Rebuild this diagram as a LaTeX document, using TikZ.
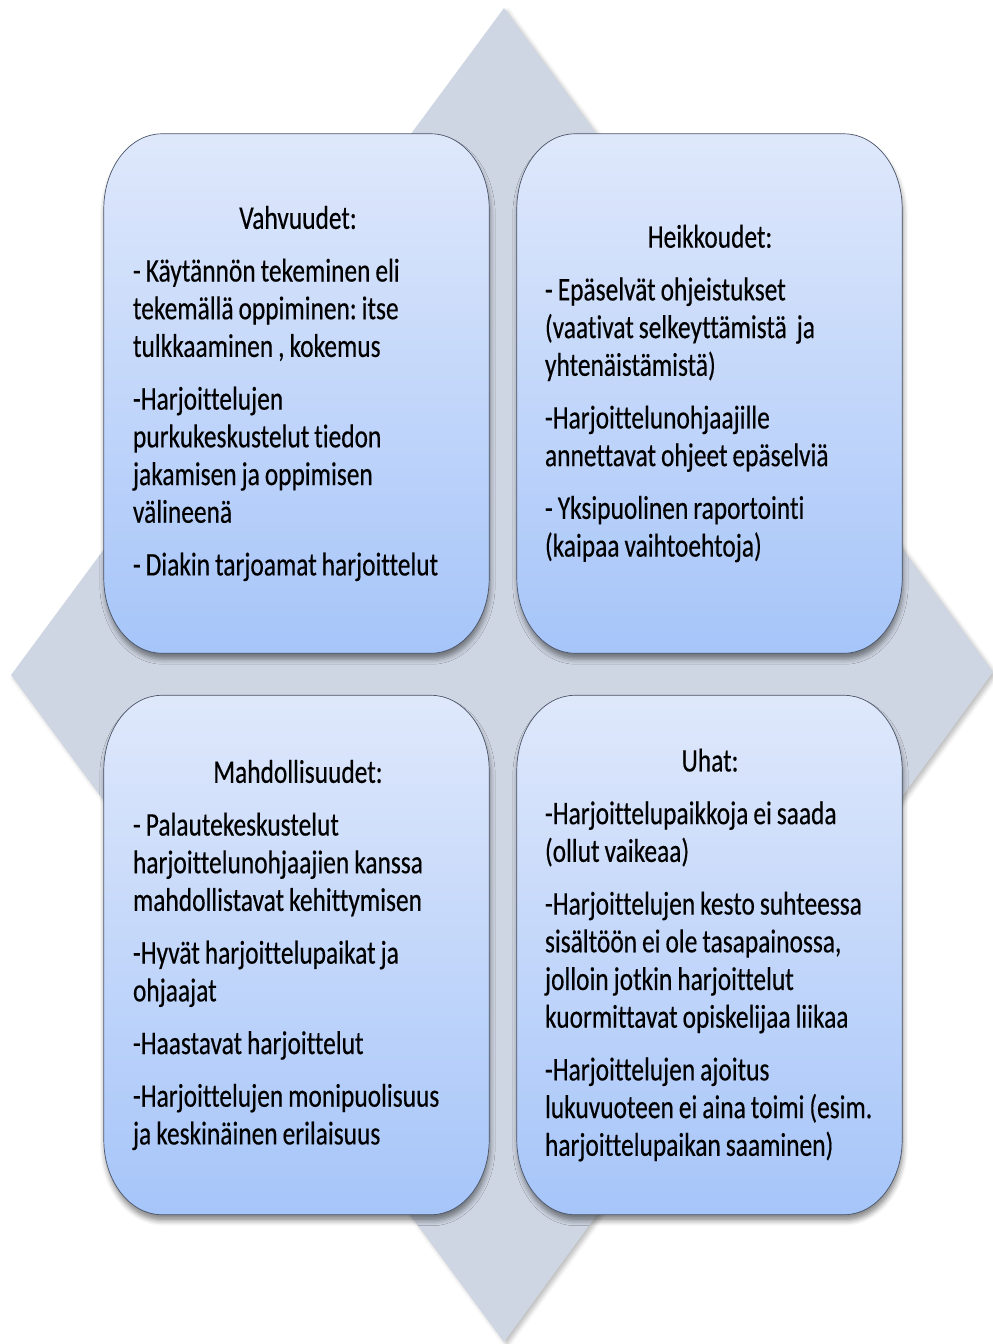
\documentclass[tikz,border=0pt]{standalone}
\usepackage{fontspec}
\setmainfont{Carlito}[FakeStretch=0.77, Ligatures=NoCommon, FakeBold=0.35]
\usetikzlibrary{backgrounds,shadows.blur}

\definecolor{coreblue}{RGB}{207,214,227}
\definecolor{paneltop}{RGB}{223,232,251}
\definecolor{panelbot}{RGB}{166,197,249}
\definecolor{panelline}{RGB}{75,85,105}

\newcommand{\cornx}{58pt}
\newcommand{\corny}{75pt}
% rounded panel drawn round an (empty) node
\newcommand{\panelpath}[1]{%
  \path[panelfill] ([xshift=\cornx]#1.north west) -- ([xshift=-\cornx]#1.north east)
    arc[start angle=90, end angle=0, x radius=\cornx, y radius=\corny]
    -- ([yshift=\corny]#1.south east)
    arc[start angle=0, end angle=-90, x radius=\cornx, y radius=\corny]
    -- ([xshift=\cornx]#1.south west)
    arc[start angle=270, end angle=180, x radius=\cornx, y radius=\corny]
    -- ([yshift=-\corny]#1.north west)
    arc[start angle=180, end angle=90, x radius=\cornx, y radius=\corny] -- cycle;}
\newcommand{\swothead}[1]{\makebox[330pt]{#1}}

\tikzset{
  panel/.style={minimum width=385pt, minimum height=519pt, inner sep=0pt},
  paneltext/.style={anchor=west, text width=345pt, align=left, inner sep=0pt,
    font=\fontsize{33}{37.7}\selectfont,
    execute at begin node={\spaceskip=5pt\xspaceskip=5pt\relax}},
  panelfill/.style={top color=paneltop, bottom color=panelbot, draw=panelline, line width=0.7pt,
    blur shadow={shadow xshift=1pt, shadow yshift=-6pt, shadow blur radius=5pt, shadow opacity=45}},
  core/.style={fill=coreblue,
    blur shadow={shadow xshift=3pt, shadow yshift=-3pt, shadow blur radius=4pt, shadow opacity=25}}
}

\begin{document}
\begin{tikzpicture}[x=1pt,y=-1pt]
  \useasboundingbox (0,0) rectangle (993,1344);
  \path
  +(296.5,393.5) node[panel] (vahv) {}
  +(709.5,393.5) node[panel] (heik) {}
  +(296.5,955)   node[panel] (mahd) {}
  +(709.5,955)   node[panel] (uhat) {}
  ;
  \node[paneltext] (vahvT) at ([xshift=29pt]vahv.west) {\swothead{Vahvuudet:}\\[15pt]
    - Käytännön tekeminen eli\\ tekemällä oppiminen: itse\\ tulkkaaminen , kokemus\\[15pt]
    -Harjoittelujen\\ purkukeskustelut tiedon\\ jakamisen ja oppimisen\\ välineenä\\[15pt]
    - Diakin tarjoamat harjoittelut};
  \node[paneltext] (heikT) at ([xshift=28pt]heik.west) {\swothead{Heikkoudet:}\\[15pt]
    - Epäselvät ohjeistukset\\ (vaativat selkeyttämistä\ \ ja\\ yhtenäistämistä)\\[15pt]
    -Harjoittelunohjaajille\\ annettavat ohjeet epäselviä\\[15pt]
    - Yksipuolinen raportointi\\ (kaipaa vaihtoehtoja)};
  \node[paneltext] (mahdT) at ([xshift=29pt]mahd.west) {\swothead{Mahdollisuudet:}\\[15pt]
    - Palautekeskustelut\\ harjoittelunohjaajien kanssa\\ mahdollistavat kehittymisen\\[15pt]
    -Hyvät harjoittelupaikat ja\\ ohjaajat\\[15pt]
    -Haastavat harjoittelut\\[15pt]
    -Harjoittelujen monipuolisuus\\ ja keskinäinen erilaisuus};
  \node[paneltext] (uhatT) at ([xshift=28pt]uhat.west) {\swothead{Uhat:}\\[15pt]
    -Harjoittelupaikkoja ei saada\\ (ollut vaikeaa)\\[15pt]
    -Harjoittelujen kesto suhteessa\\ sisältöön ei ole tasapainossa,\\ jolloin jotkin harjoittelut\\ kuormittavat opiskelijaa liikaa\\[15pt]
    -Harjoittelujen ajoitus\\ lukuvuoteen ei aina toimi (esim.\\ harjoittelupaikan saaminen)};
  \begin{scope}[on background layer]
    \path[core] (504,8) -- (993,672) -- (504,1342) -- (11,675) -- cycle;
    \panelpath{vahv}
    \panelpath{heik}
    \panelpath{mahd}
    \panelpath{uhat}
  \end{scope}
\end{tikzpicture}
\end{document}
